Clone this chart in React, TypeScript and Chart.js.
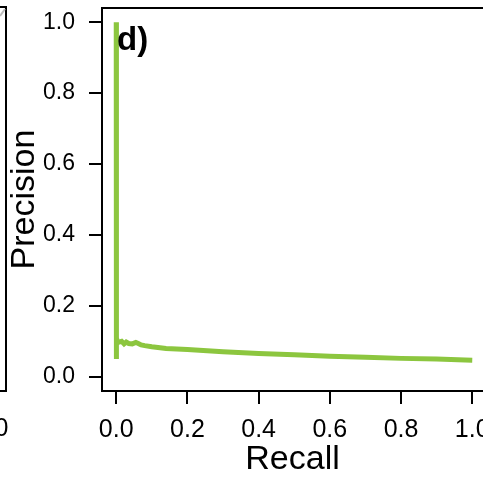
import React, { useEffect, useRef } from "react";
import { Chart, registerables } from "chart.js";

Chart.register(...registerables);

const recall = [0, 0, 0.0005, 0.001, 0.003, 0.008, 0.015, 0.022, 0.028, 0.035, 0.045, 0.055, 0.062, 0.07, 0.08, 0.1, 0.14, 0.2, 0.3, 0.4, 0.5, 0.6, 0.7, 0.8, 0.9, 1.0];
const precision = [1.0, 0.5, 0.05, 0.11, 0.1, 0.098, 0.1, 0.093, 0.098, 0.094, 0.093, 0.097, 0.094, 0.09, 0.088, 0.085, 0.08, 0.077, 0.071, 0.066, 0.062, 0.058, 0.055, 0.052, 0.05, 0.047];
const tickValues = [0, 0.2, 0.4, 0.6, 0.8, 1.0];
const xLabel = "Recall";
const yLabel = "Precision";
const panelLabel = "d)";
const lineColor = "#8CC63F";

const FONT = "'Liberation Sans', Arial, Helvetica, sans-serif";

const framePlugin = {
  id: "frame",
  beforeDraw(chart: any) {
    const ctx = chart.ctx;
    ctx.save();
    // remnants of the neighbouring panel on the left
    ctx.strokeStyle = "#000";
    ctx.lineWidth = 2;
    ctx.beginPath();
    ctx.moveTo(0, 7);
    ctx.lineTo(6, 7);
    ctx.lineTo(6, 391);
    ctx.lineTo(0, 391);
    ctx.stroke();
    ctx.strokeStyle = "#bbbbbb";
    ctx.lineWidth = 2;
    ctx.beginPath();
    ctx.moveTo(0, 16);
    ctx.lineTo(5, 9);
    ctx.stroke();
    ctx.fillStyle = "#000";
    ctx.font = `25px ${FONT}`;
    ctx.textAlign = "center";
    ctx.textBaseline = "middle";
    ctx.fillText("1.0", -9, 429);
    ctx.restore();
  },
  afterDraw(chart: any) {
    const { ctx, chartArea } = chart;
    ctx.save();
    ctx.strokeStyle = "#000";
    ctx.lineWidth = 2;
    ctx.beginPath();
    ctx.moveTo(chartArea.left, chartArea.top);
    ctx.lineTo(chartArea.right + 5, chartArea.top);
    ctx.stroke();
    ctx.fillStyle = "#000";
    ctx.font = `bold 33px ${FONT}`;
    ctx.textAlign = "left";
    ctx.textBaseline = "alphabetic";
    ctx.fillText(panelLabel, chartArea.left + 15, chartArea.top + 42);
    ctx.restore();
  },
};

export default function App() {
  const ref = useRef<HTMLCanvasElement | null>(null);
  useEffect(() => {
    if (!ref.current) return;
    const titleFont = { family: FONT, size: 34, lineHeight: 1 };
    const setTicks = (scale: any) => {
      scale.ticks = tickValues.map((v) => ({ value: v }));
    };
    const chart = new Chart(ref.current, {
      type: "line",
      data: {
        datasets: [
          {
            data: recall.map((r, i) => ({ x: r, y: precision[i] })),
            borderColor: lineColor,
            borderWidth: 5,
            pointRadius: 0,
            tension: 0,
            fill: false,
          },
        ],
      },
      options: {
        responsive: false,
        animation: false,
        devicePixelRatio: 1,
        layout: { padding: { top: 8, right: 0, left: 0, bottom: 0 } },
        plugins: { legend: { display: false }, tooltip: { enabled: false } },
        scales: {
          x: {
            type: "linear",
            min: -0.04,
            max: 1.0302,
            afterBuildTicks: setTicks,
            afterFit: (s: any) => {
              s.height = 86;
              s.paddingLeft = 0;
              s.paddingRight = 0;
            },
            ticks: {
              font: { family: FONT, size: 25 },
              color: "#000",
              padding: 11,
              maxRotation: 0,
              autoSkip: false,
              callback: (v: any) => Number(v).toFixed(1),
            },
            grid: { drawOnChartArea: false, drawTicks: true, tickLength: 13, tickWidth: 2, lineWidth: 2, color: "#000", tickColor: "#000" },
            border: { display: true, color: "#000", width: 2 },
            title: { display: true, text: xLabel, font: titleFont, color: "#000", padding: { top: 0, bottom: 0 } },
          },
          y: {
            type: "linear",
            min: -0.04,
            max: 1.04,
            afterBuildTicks: setTicks,
            afterFit: (s: any) => {
              s.width = 102;
              s.paddingTop = 0;
              s.paddingBottom = 0;
            },
            ticks: {
              font: { family: FONT, size: 23 },
              color: "#000",
              padding: 14,
              autoSkip: false,
              callback: (v: any) => Number(v).toFixed(1),
            },
            grid: { drawOnChartArea: false, drawTicks: true, tickLength: 13, tickWidth: 2, lineWidth: 2, color: "#000", tickColor: "#000" },
            border: { display: true, color: "#000", width: 2 },
            title: { display: true, text: yLabel, font: titleFont, color: "#000", padding: { top: 8, bottom: 0 } },
          },
        },
      },
      plugins: [framePlugin],
    });
    return () => chart.destroy();
  }, []);
  return (
    <div style={{ position: "fixed", left: 0, top: 0, width: 483, height: 477, background: "#fff" }}>
      <canvas ref={ref} width={483} height={477} style={{ display: "block" }} />
    </div>
  );
}
